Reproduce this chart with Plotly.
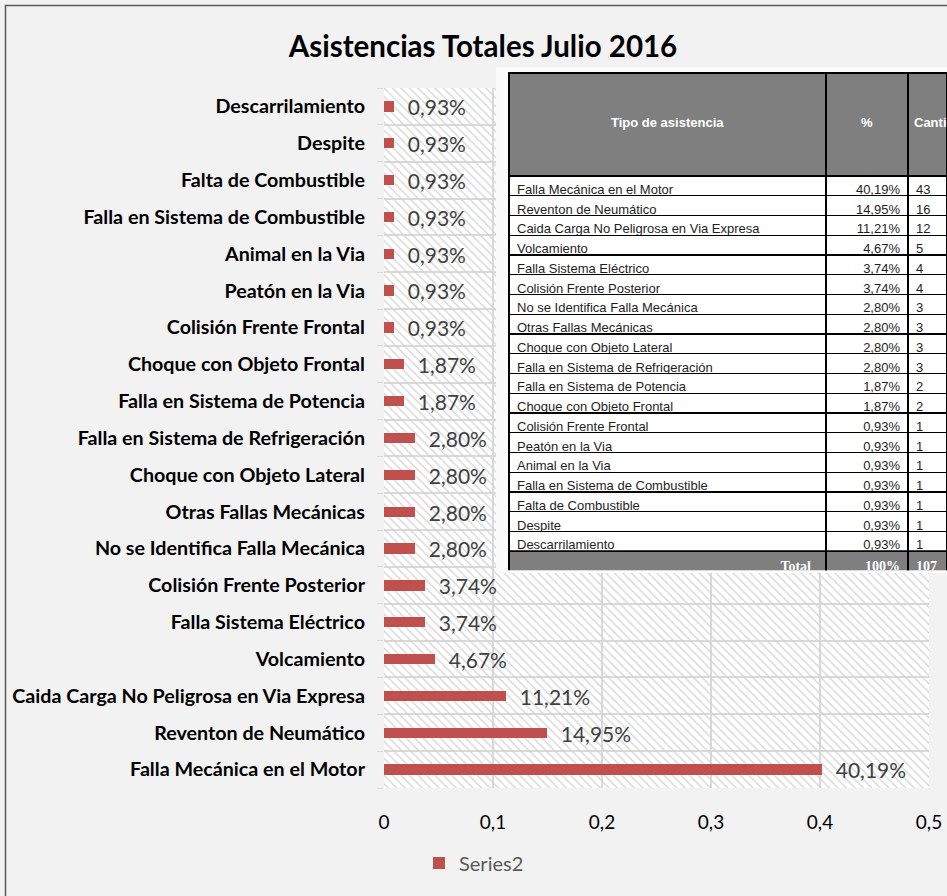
import plotly.graph_objects as go

# ---------------- data ----------------
categories = [
    "Falla Mecánica en el Motor",
    "Reventon de Neumático",
    "Caida Carga No Peligrosa en Via Expresa",
    "Volcamiento",
    "Falla Sistema Eléctrico",
    "Colisión Frente Posterior",
    "No se Identifica Falla Mecánica",
    "Otras Fallas Mecánicas",
    "Choque con Objeto Lateral",
    "Falla en Sistema de Refrigeración",
    "Falla en Sistema de Potencia",
    "Choque con Objeto Frontal",
    "Colisión Frente Frontal",
    "Peatón en la Via",
    "Animal en la Via",
    "Falla en Sistema de Combustible",
    "Falta de Combustible",
    "Despite",
    "Descarrilamiento",
]
percent = [0.4019, 0.1495, 0.1121, 0.0467, 0.0374, 0.0374, 0.0280, 0.0280,
           0.0280, 0.0280, 0.0187, 0.0187, 0.0093, 0.0093, 0.0093, 0.0093,
           0.0093, 0.0093, 0.0093]
counts = [43, 16, 12, 5, 4, 4, 3, 3, 3, 3, 2, 2, 1, 1, 1, 1, 1, 1, 1]
series_name = "Series2"
title_text = "Asistencias Totales Julio 2016"
table_header = ["Tipo de asistencia", "%", "Cantidad"]
total_label = "Total"
total_percent = "100%"
x_ticks = [0, 0.1, 0.2, 0.3, 0.4, 0.5]

W, H = 947, 896
BAR = "#c0504d"
GRID = "#d9d9d9"
HEAD_GRAY = "#7f7f7f"
BACKDROP = "#fbfbfb"
# plot-area pixel box
AX0, AX1, AY0, AY1 = 384, 929, 88, 788


def fx(v):
    return v / W


def fy(v):
    return 1 - v / H


fig = go.Figure()

# hatched plot-area background (drawn on base axes, below data)
fig.add_trace(go.Bar(
    x=[1], y=[0.5], orientation="h", width=[1], base=[0],
    xaxis="x", yaxis="y",
    marker=dict(color="rgba(0,0,0,0)", line=dict(width=0),
                pattern=dict(shape="\\", fillmode="replace", fgcolor="#d2d2d2",
                             size=6, solidity=0.2)),
    showlegend=False, hoverinfo="skip",
))

# data bars
fig.add_trace(go.Bar(
    x=percent, y=categories, orientation="h", name=series_name,
    xaxis="x2", yaxis="y2",
    marker=dict(color=BAR, line=dict(width=0)),
    width=0.28,
    texttemplate="\u00a0\u00a0%{x:.2%}",
    textposition="outside",
    outsidetextfont=dict(family="Lato", size=21, color="#404040"),
    constraintext="none",
    cliponaxis=False,
    showlegend=True,
))

# table (inset picture)
pct_txt = [f"{p*100:.2f}%".replace(".", ",") for p in percent]
n = len(categories)
row_h = 19.75
head_h = 103
t_top = 73
t_head_bottom = t_top + head_h
t_rows_bottom = t_head_bottom + n * row_h
t_bottom = t_rows_bottom + row_h
tx0 = fx(509)
colw = [317, 82, 39]
col_edges = [509]
for w in colw:
    col_edges.append(col_edges[-1] + w)

# light backdrop of the pasted table picture
fig.add_trace(go.Table(
    domain=dict(x=[fx(496), 1], y=[fy(573), fy(67)]),
    cells=dict(values=[[""]], fill_color=BACKDROP,
               line=dict(color=BACKDROP, width=0), height=506),
    header=dict(fill_color=BACKDROP, line=dict(color=BACKDROP, width=0)),
))

fig.add_trace(go.Table(
    domain=dict(x=[tx0, 1], y=[fy(t_rows_bottom), fy(t_top)]),
    columnwidth=colw,
    header=dict(
        values=["", "", ""],
        fill_color=HEAD_GRAY,
        line=dict(color="black", width=2),
        height=head_h,
    ),
    cells=dict(
        values=[categories, pct_txt, [str(c) for c in counts]],
        fill_color="white",
        font=dict(family="Liberation Sans", size=13, color="#1e1e1e"),
        align=["left", "right", "left"],
        line=dict(color="black", width=1.3),
        height=row_h,
    ),
))

# total row (drawn as the header row of a one-row table)
fig.add_trace(go.Table(
    domain=dict(x=[tx0, 1], y=[fy(t_bottom), fy(t_rows_bottom)]),
    columnwidth=colw,
    header=dict(
        values=[f"<b>{total_label}</b>\u00a0\u00a0", f"<b>{total_percent}</b>",
                f"<b>{sum(counts)}</b>"],
        fill_color=HEAD_GRAY,
        font=dict(family="Liberation Serif", size=14, color="white"),
        align=["right", "right", "left"],
        line=dict(color="black", width=2),
        height=row_h,
    ),
    cells=dict(values=[[""], [""], [""]], height=2, fill_color=HEAD_GRAY,
               line=dict(color="black", width=0)),
))

# header labels of the table, vertically centred in the grey header block
head_annots = []
for i, h in enumerate(table_header):
    left, right = col_edges[i], col_edges[i + 1]
    if i < 2:
        xa, xpos = "center", (left + right) / 2
    else:
        xa, xpos = "left", left + 4
    head_annots.append(dict(
        text=f"<b>{h}</b>", xref="paper", yref="paper",
        x=fx(xpos), y=fy(t_top + head_h / 2 - 2), xanchor=xa, yanchor="middle",
        showarrow=False,
        font=dict(family="Liberation Sans", size=13, color="white"),
    ))

fig.update_layout(
    width=W, height=H,
    paper_bgcolor="#f2f2f2",
    plot_bgcolor="white",
    margin=dict(l=0, r=0, t=0, b=0, autoexpand=False),
    separators=",.",
    bargap=0,
    title=dict(text=f"<b>{title_text}</b>", x=fx(483), xanchor="center",
               y=fy(47), yanchor="middle",
               font=dict(family="Lato", size=29.5, color="black")),
    xaxis=dict(domain=[fx(AX0), fx(AX1)], range=[0, 1], visible=False, fixedrange=True),
    yaxis=dict(domain=[fy(AY1), fy(AY0)], range=[0, 1], visible=False, fixedrange=True),
    xaxis2=dict(overlaying="x", anchor="y2", side="bottom", range=[0, 0.5],
                tickvals=x_ticks, showgrid=True, gridcolor=GRID, gridwidth=1.5,
                zeroline=False, showline=False,
                ticks="outside", ticklen=17, tickcolor="rgba(0,0,0,0)",
                tickfont=dict(family="Lato", size=19, color="black")),
    yaxis2=dict(overlaying="y", anchor="x2", type="category",
                categoryorder="array", categoryarray=categories,
                tickson="boundaries", showgrid=True, gridcolor=GRID, gridwidth=1.5,
                ticks="outside", ticklen=6, tickcolor=GRID,
                ticklabelstandoff=18,
                showline=False, zeroline=False,
                tickfont=dict(family="Lato", size=19.7, color="black", weight="bold")),
    legend=dict(orientation="h", x=fx(419), xanchor="left",
                y=fy(863), yanchor="middle",
                bgcolor="rgba(0,0,0,0)",
                font=dict(family="Lato", size=20, color="#595959")),
    annotations=head_annots,
    shapes=[
        # outer chart border
        dict(type="rect", xref="paper", yref="paper",
             x0=fx(5.5), x1=fx(W + 20), y0=fy(H + 20), y1=fy(5.5),
             line=dict(color="#595959", width=1.5), fillcolor="rgba(0,0,0,0)",
             layer="below"),
    ],
)

fig.write_html("out.html", config={"displayModeBar": False},
               post_script="document.body.style.margin='0px';")
